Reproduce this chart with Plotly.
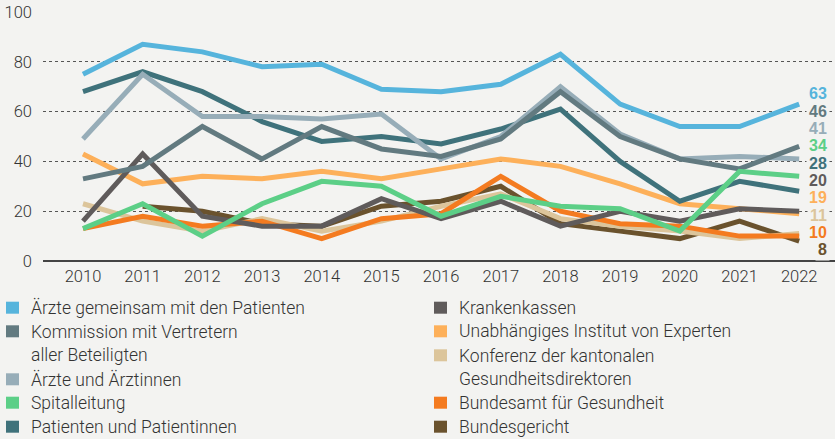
import plotly.graph_objects as go

years = list(range(2010, 2023))

names = [
    "Ärzte gemeinsam mit den Patienten",
    "Kommission mit Vertretern<br>aller Beteiligten",
    "Ärzte und Ärztinnen",
    "Spitalleitung",
    "Patienten und Patientinnen",
    "Krankenkassen",
    "Unabhängiges Institut von Experten",
    "Konferenz der kantonalen<br>Gesundheitsdirektoren",
    "Bundesamt für Gesundheit",
    "Bundesgericht",
]
colors = ["#56b4dc", "#627a80", "#97adb8", "#5ccf87", "#3f727b",
          "#5f5b5b", "#fdb05a", "#dcc59b", "#f47b20", "#6a522d"]

aerzte_pat = [75, 87, 84, 78, 79, 69, 68, 71, 83, 63, 54, 54, 63]
kommission = [33, 38, 54, 41, 54, 45, 42, 49, 68, 50, 41, 37, 46]
aerzte = [49, 75, 58, 58, 57, 59, 41, 50, 70, 51, 41, 42, 41]
spital = [13, 23, 10, 23, 32, 30, 18, 26, 22, 21, 12, 36, 34]
patienten = [68, 76, 68, 56, 48, 50, 47, 53, 61, 40, 24, 32, 28]
kranken = [16, 43, 18, 14, 14, 25, 17, 24, 14, 20, 16, 21, 20]
institut = [43, 31, 34, 33, 36, 33, 37, 41, 38, 31, 23, 21, 19]
konferenz = [23, 16, 12, 17, 12, 16, 22, 27, 17, 14, 12, 9, 11]
bag = [13, 18, 14, 16, 9, 17, 19, 34, 20, 15, 14, 10, 10]
gericht = [None, 22, 20, 15, 14, 22, 24, 30, 15, 12, 9, 16, 8]

series = [aerzte_pat, kommission, aerzte, spital, patienten,
          kranken, institut, konferenz, bag, gericht]

y_ticks = [0, 20, 40, 60, 80, 100]

BG = "#f3f3f1"
TXT = "#333333"
W, H = 835, 439
L, R, T, B = 43, 0, 12, 178
PW, PH = W - L - R, H - T - B

def px(xp):
    return (xp - L) / PW

def py(yp):
    return (H - B - yp) / PH

fig = go.Figure()

draw_order = [9, 7, 8, 6, 5, 4, 2, 1, 3, 0]
for i in draw_order:
    fig.add_trace(go.Scatter(
        x=years, y=series[i], mode="lines", name=names[i].replace("<br>", " "),
        line=dict(color=colors[i], width=5), showlegend=False,
        connectgaps=False, hoverinfo="skip",
    ))

# end labels, stacked in order of final value
order = sorted(range(len(series)), key=lambda k: -series[k][-1])
top, step = 67.2, 6.97
for rank, i in enumerate(order):
    fig.add_annotation(
        x=2022.52, y=top - rank * step, xref="x", yref="y",
        text=f"<b>{series[i][-1]}</b>", showarrow=False,
        xanchor="right", yanchor="middle",
        font=dict(size=16, color=colors[i], family="Liberation Sans"),
        bgcolor=BG, borderpad=2,
    )

# custom legend in two columns
left_rows = [0, 1, 3, 4, 5]   # row index for entries 0..4
right_rows = [0, 1, 2, 4, 5]  # row index for entries 5..9
row_y = [307.7, 331.3, 355.3, 379.3, 402.7, 426.7]
for col, (start, rows, sq_x, tx_x) in enumerate([(0, left_rows, 6, 29), (5, right_rows, 434, 457)]):
    for j, r in enumerate(rows):
        i = start + j
        yc = row_y[r]
        fig.add_shape(type="rect", xref="paper", yref="paper",
                      x0=px(sq_x), x1=px(sq_x + 13), y0=py(yc + 6), y1=py(yc - 6),
                      fillcolor=colors[i], line=dict(width=0))
        fig.add_annotation(
            x=px(tx_x), y=py(yc + 24 * names[i].count("<br>") / 2), xref="paper", yref="paper",
            text=names[i], showarrow=False, xanchor="left", yanchor="middle", align="left",
            font=dict(size=17.5, color=TXT, family="Roboto", weight=300),
        )

fig.update_layout(
    width=W, height=H,
    margin=dict(l=L, r=R, t=T, b=B),
    paper_bgcolor=BG, plot_bgcolor=BG,
    font=dict(family="Roboto", size=16, color=TXT, weight=300),
    showlegend=False,
    xaxis=dict(range=[2009.33, 2022.6], tickvals=years, ticktext=[str(y) for y in years],
               showgrid=False, zeroline=False, showline=False, ticks="",
               ticklabelstandoff=3, tickfont=dict(size=16.5)),
    yaxis=dict(range=[0, 100], tickvals=y_ticks, showgrid=True,
               gridcolor="#555555", griddash="dot", gridwidth=1.3,
               zeroline=True, zerolinecolor="#444444", zerolinewidth=1.5,
               showline=False, ticks="", ticklabelstandoff=10,
               tickfont=dict(size=16.5)),
)

fig.write_html(
    "out.html",
    config={"displayModeBar": False},
    post_script="document.body.style.margin='0';document.body.style.overflow='hidden';"
                "document.body.style.background='" + BG + "';",
)
